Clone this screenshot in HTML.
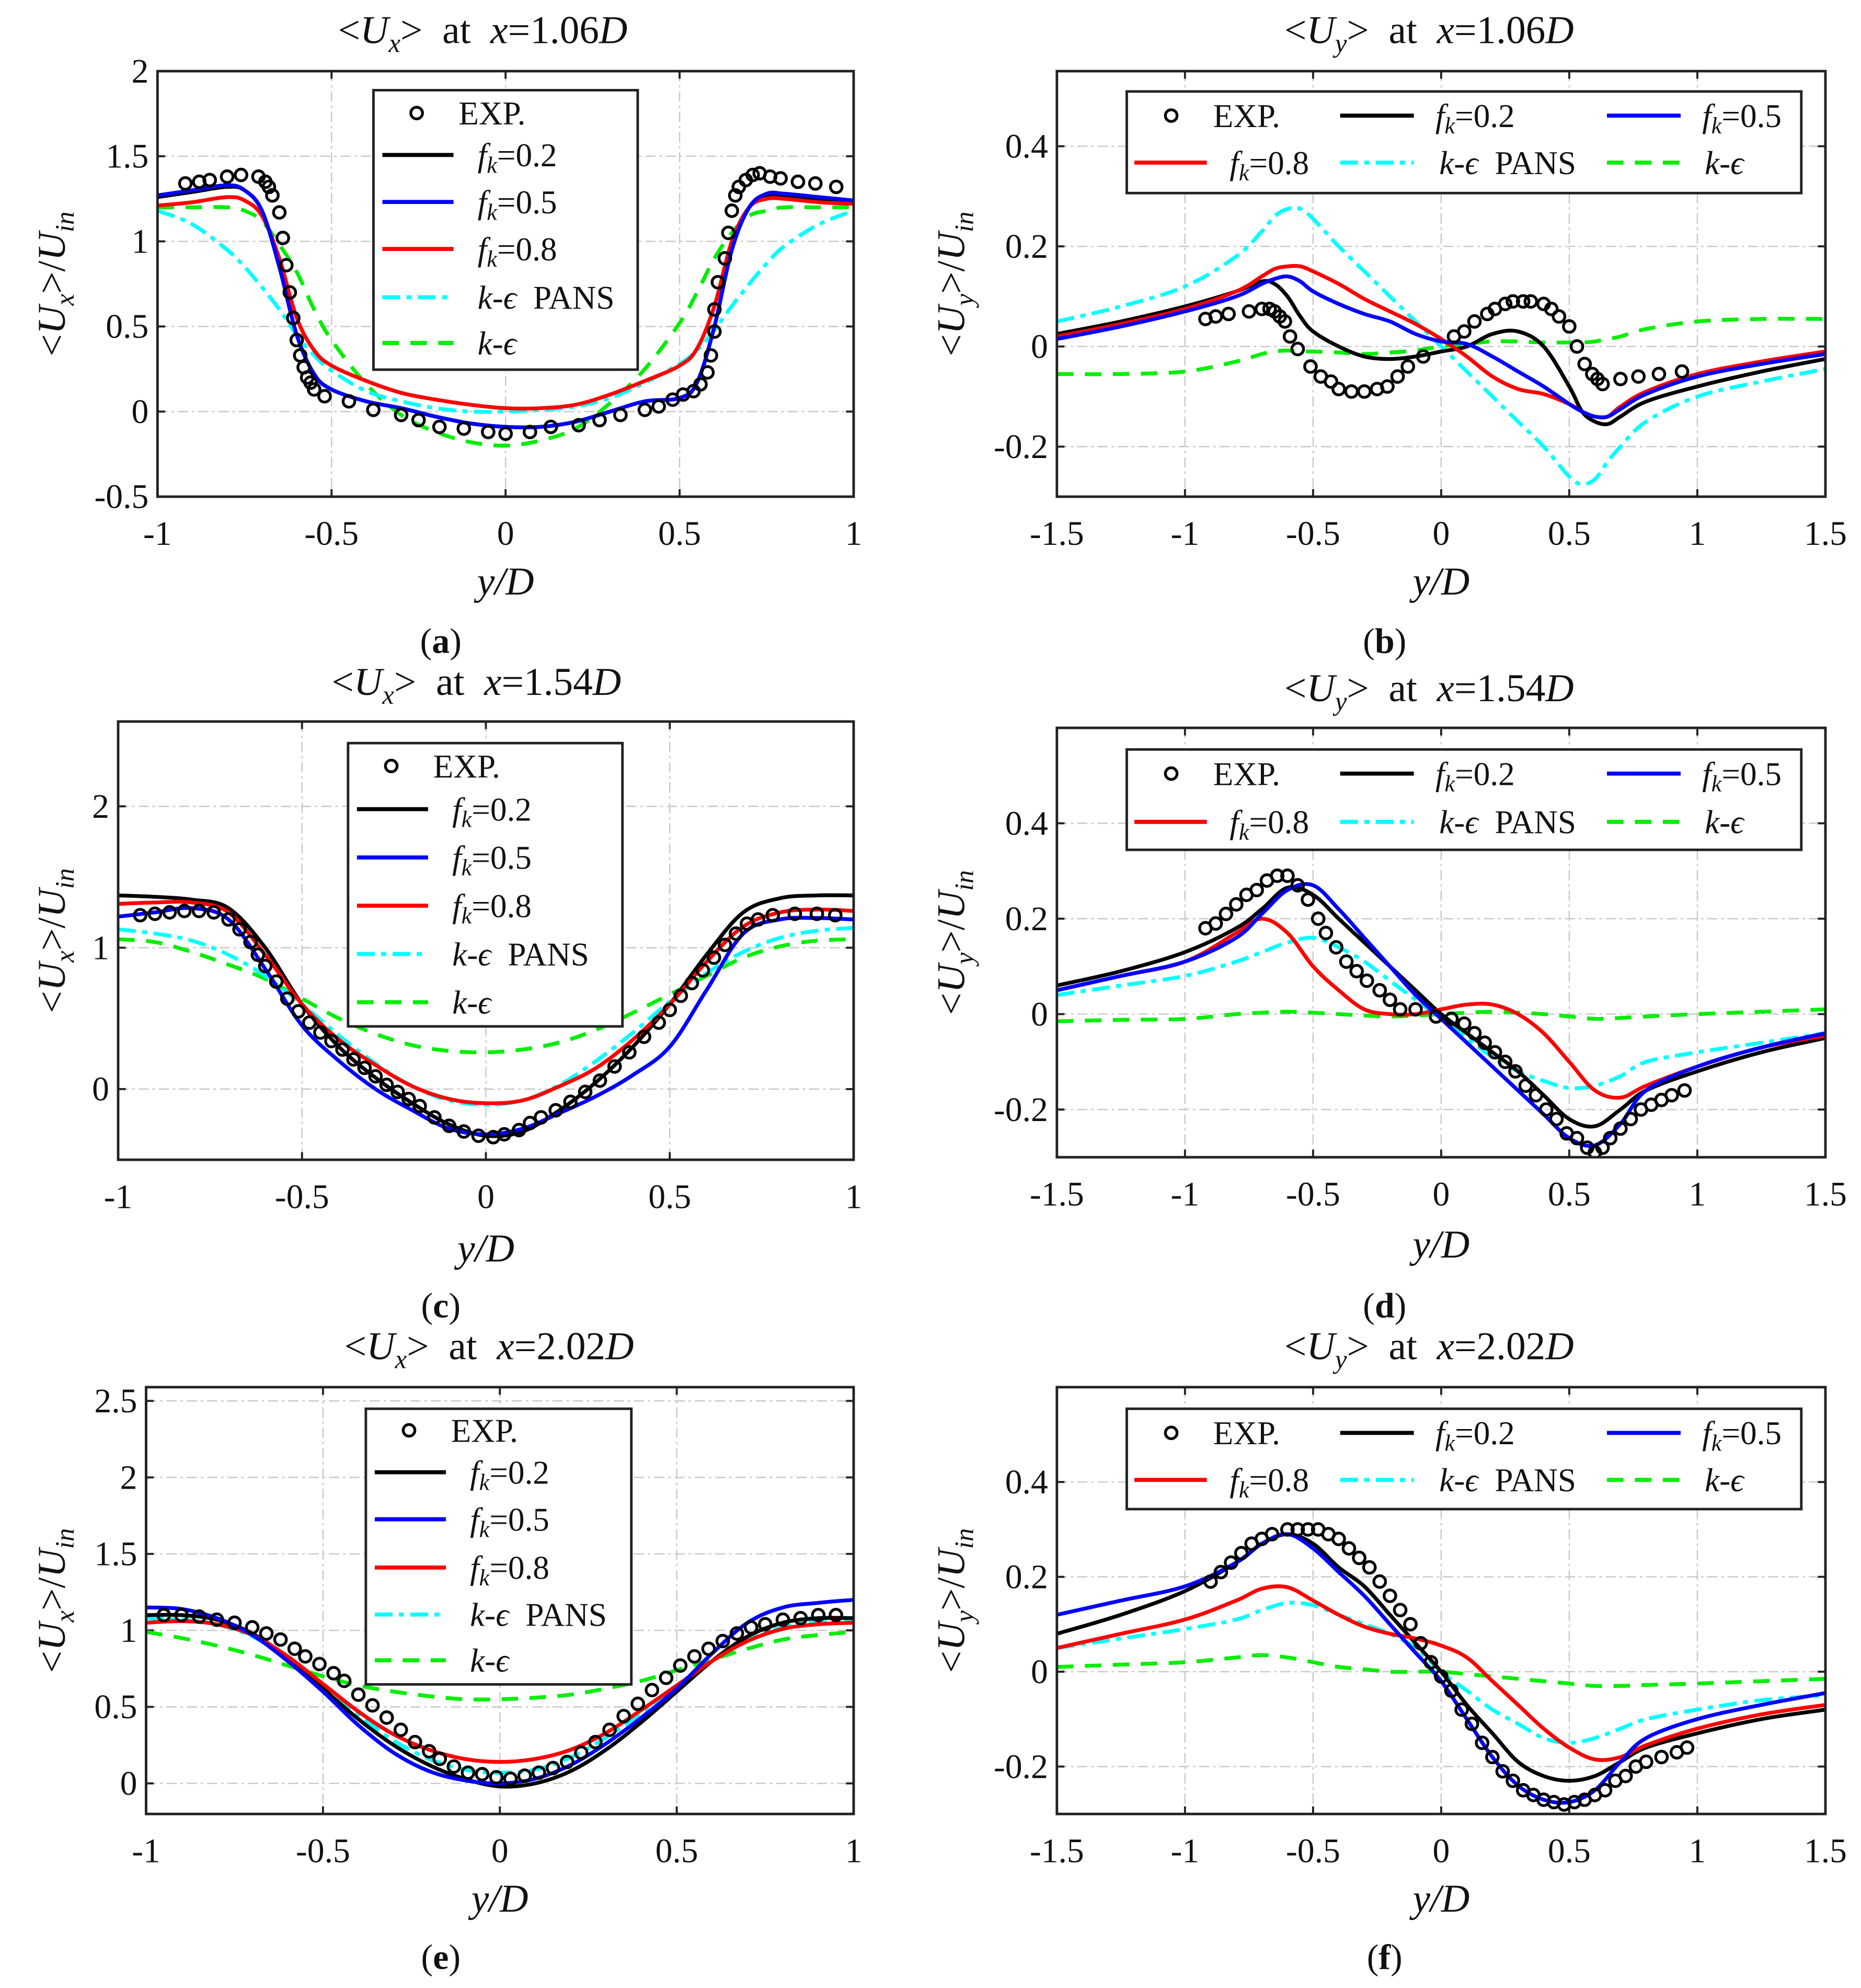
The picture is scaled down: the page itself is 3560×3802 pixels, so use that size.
<!DOCTYPE html>
<html><head><meta charset="utf-8">
<style>
html,body{margin:0;padding:0;background:#fff;}
svg{display:block;}
text{font-family:"Liberation Serif","DejaVu Serif",serif;fill:#111;}
</style></head>
<body>
<svg id="fig" xmlns="http://www.w3.org/2000/svg" width="3560" height="3802" viewBox="0 0 1465 1565" preserveAspectRatio="none"></svg>
<script>
// ---------- DATA ----------
// Panel a: <Ux> at x=1.06D
const xA = [-1,-0.9,-0.8,-0.75,-0.7,-0.65,-0.6,-0.55,-0.5,-0.4,-0.3,-0.2,-0.1,0,0.1,0.2,0.3,0.4,0.5,0.55,0.6,0.65,0.7,0.75,0.8,0.9,1];
const aFk02 = [1.26,1.29,1.32,1.3,1.18,0.85,0.45,0.22,0.13,0.06,0.02,-0.03,-0.07,-0.09,-0.09,-0.06,0.0,0.06,0.08,0.17,0.5,0.95,1.2,1.27,1.27,1.25,1.23];
const aFk05 = [1.27,1.3,1.33,1.3,1.18,0.85,0.45,0.22,0.13,0.06,0.02,-0.03,-0.07,-0.09,-0.09,-0.06,0.0,0.06,0.08,0.17,0.5,0.95,1.2,1.28,1.28,1.26,1.24];
const aFk08 = [1.21,1.23,1.26,1.24,1.15,0.9,0.55,0.36,0.27,0.18,0.11,0.07,0.04,0.02,0.02,0.04,0.1,0.18,0.27,0.37,0.62,1.0,1.2,1.25,1.25,1.23,1.22];
const aPans = [1.18,1.1,0.95,0.85,0.73,0.6,0.45,0.33,0.24,0.12,0.06,0.02,0.0,0.0,0.01,0.03,0.08,0.17,0.28,0.36,0.48,0.62,0.75,0.87,0.97,1.1,1.18];
const aKe   = [1.2,1.2,1.2,1.18,1.12,0.98,0.82,0.6,0.42,0.16,-0.02,-0.12,-0.18,-0.2,-0.17,-0.1,0.05,0.25,0.52,0.7,0.9,1.05,1.15,1.18,1.2,1.2,1.2];
const aExpX = [-0.92,-0.88,-0.85,-0.8,-0.76,-0.71,-0.69,-0.68,-0.67,-0.65,-0.64,-0.63,-0.62,-0.61,-0.6,-0.59,-0.58,-0.57,-0.56,-0.55,-0.52,-0.45,-0.38,-0.3,-0.25,-0.19,-0.12,-0.05,0,0.07,0.13,0.21,0.27,0.33,0.4,0.44,0.48,0.51,0.54,0.56,0.58,0.59,0.6,0.6,0.61,0.63,0.64,0.65,0.66,0.67,0.69,0.71,0.73,0.76,0.79,0.84,0.89,0.95];
const aExpY = [1.34,1.35,1.36,1.38,1.39,1.38,1.35,1.32,1.27,1.17,1.02,0.86,0.7,0.55,0.42,0.33,0.26,0.2,0.17,0.13,0.09,0.06,0.01,-0.02,-0.05,-0.09,-0.1,-0.12,-0.13,-0.12,-0.09,-0.08,-0.05,-0.02,0.01,0.03,0.07,0.1,0.12,0.16,0.23,0.33,0.47,0.6,0.76,0.9,1.05,1.18,1.27,1.32,1.36,1.39,1.4,1.38,1.37,1.35,1.34,1.32];

// Panel b: <Uy> at x=1.06D
const xB = [-1.5,-1.25,-1,-0.8,-0.7,-0.65,-0.6,-0.55,-0.5,-0.4,-0.3,-0.2,-0.1,0,0.1,0.2,0.3,0.4,0.5,0.55,0.6,0.65,0.7,0.8,1,1.25,1.5];
const bFk02 = [0.025,0.05,0.08,0.11,0.13,0.125,0.1,0.06,0.03,0.0,-0.02,-0.025,-0.02,-0.01,0.0,0.025,0.03,0.0,-0.08,-0.13,-0.15,-0.155,-0.14,-0.11,-0.08,-0.05,-0.025];
const bFk05 = [0.015,0.04,0.07,0.1,0.125,0.135,0.14,0.13,0.11,0.085,0.065,0.05,0.025,0.01,0.005,-0.02,-0.05,-0.08,-0.115,-0.13,-0.14,-0.14,-0.125,-0.095,-0.06,-0.035,-0.015];
const bFk08 = [0.02,0.045,0.075,0.11,0.14,0.155,0.16,0.16,0.15,0.125,0.095,0.07,0.045,0.015,-0.02,-0.06,-0.085,-0.095,-0.115,-0.13,-0.14,-0.14,-0.12,-0.09,-0.055,-0.03,-0.01];
const bPans = [0.05,0.08,0.12,0.18,0.23,0.26,0.275,0.275,0.255,0.2,0.15,0.1,0.05,0.0,-0.05,-0.1,-0.15,-0.2,-0.26,-0.275,-0.265,-0.23,-0.2,-0.15,-0.1,-0.07,-0.045];
const bKe   = [-0.055,-0.055,-0.05,-0.03,-0.015,-0.01,-0.008,-0.01,-0.01,-0.012,-0.015,-0.012,-0.008,0.0,0.005,0.01,0.01,0.008,0.008,0.008,0.01,0.015,0.02,0.035,0.05,0.055,0.055];
const bExpX = [-0.92,-0.88,-0.83,-0.75,-0.7,-0.67,-0.65,-0.63,-0.61,-0.59,-0.56,-0.51,-0.47,-0.43,-0.4,-0.35,-0.3,-0.25,-0.21,-0.17,-0.13,-0.07,0.05,0.09,0.13,0.18,0.21,0.25,0.28,0.32,0.35,0.4,0.43,0.46,0.5,0.53,0.56,0.59,0.61,0.63,0.7,0.77,0.85,0.94];
const bExpY = [0.055,0.06,0.065,0.07,0.075,0.075,0.07,0.06,0.05,0.02,-0.005,-0.04,-0.06,-0.07,-0.085,-0.09,-0.09,-0.085,-0.08,-0.06,-0.04,-0.02,0.02,0.03,0.05,0.065,0.075,0.085,0.09,0.09,0.09,0.085,0.075,0.06,0.04,0.0,-0.035,-0.055,-0.065,-0.075,-0.065,-0.06,-0.055,-0.05];

// Panel c: <Ux> at x=1.54D
const xC = [-1,-0.9,-0.8,-0.7,-0.6,-0.5,-0.4,-0.3,-0.2,-0.1,0,0.1,0.2,0.3,0.4,0.5,0.6,0.7,0.8,0.9,1];
const cFk02 = [1.37,1.36,1.34,1.28,1.0,0.6,0.3,0.08,-0.1,-0.25,-0.33,-0.3,-0.15,0.05,0.3,0.6,0.95,1.25,1.35,1.37,1.37];
const cFk05 = [1.22,1.25,1.28,1.2,0.85,0.45,0.2,0.0,-0.15,-0.28,-0.32,-0.28,-0.17,-0.05,0.1,0.3,0.7,1.1,1.2,1.21,1.2];
const cFk08 = [1.31,1.32,1.32,1.25,0.95,0.6,0.35,0.17,0.02,-0.07,-0.1,-0.08,0.02,0.15,0.35,0.6,0.9,1.15,1.25,1.27,1.26];
const cPans = [1.13,1.1,1.05,0.95,0.8,0.6,0.38,0.18,0.02,-0.08,-0.11,-0.08,0.03,0.2,0.4,0.62,0.82,0.97,1.07,1.12,1.14];
const cKe   = [1.06,1.04,0.97,0.88,0.78,0.64,0.5,0.39,0.31,0.27,0.26,0.28,0.33,0.42,0.54,0.67,0.8,0.93,1.01,1.05,1.06];
const cExpX = [-0.94,-0.9,-0.86,-0.82,-0.78,-0.74,-0.7,-0.67,-0.64,-0.62,-0.6,-0.57,-0.54,-0.51,-0.48,-0.45,-0.42,-0.39,-0.36,-0.33,-0.3,-0.27,-0.24,-0.21,-0.18,-0.14,-0.1,-0.06,-0.02,0.02,0.05,0.09,0.12,0.15,0.19,0.23,0.27,0.31,0.35,0.39,0.43,0.47,0.5,0.53,0.56,0.59,0.62,0.65,0.68,0.71,0.74,0.78,0.84,0.9,0.95];
const cExpY = [1.23,1.24,1.25,1.26,1.26,1.25,1.2,1.13,1.04,0.95,0.87,0.76,0.64,0.55,0.47,0.4,0.34,0.28,0.21,0.15,0.09,0.03,-0.02,-0.07,-0.12,-0.2,-0.26,-0.3,-0.33,-0.34,-0.32,-0.29,-0.24,-0.2,-0.15,-0.09,-0.02,0.06,0.16,0.26,0.37,0.47,0.56,0.66,0.75,0.84,0.93,1.02,1.1,1.17,1.2,1.23,1.24,1.24,1.23];

// Panel d: <Uy> at x=1.54D
const xD = [-1.5,-1.25,-1,-0.8,-0.7,-0.6,-0.5,-0.4,-0.3,-0.2,-0.1,0,0.1,0.2,0.3,0.4,0.5,0.6,0.7,0.8,1,1.25,1.5];
const dFk02 = [0.06,0.09,0.13,0.18,0.22,0.265,0.25,0.2,0.15,0.1,0.05,0.0,-0.04,-0.08,-0.12,-0.17,-0.22,-0.235,-0.2,-0.16,-0.12,-0.08,-0.05];
const dFk05 = [0.05,0.08,0.11,0.16,0.21,0.26,0.27,0.22,0.16,0.1,0.04,-0.01,-0.06,-0.11,-0.16,-0.21,-0.26,-0.275,-0.23,-0.16,-0.11,-0.07,-0.04];
const dFk08 = [0.05,0.08,0.11,0.17,0.2,0.17,0.1,0.05,0.01,0.0,0.0,0.01,0.02,0.02,0.0,-0.04,-0.1,-0.16,-0.175,-0.15,-0.11,-0.07,-0.045];
const dPans = [0.04,0.06,0.08,0.11,0.13,0.15,0.16,0.14,0.11,0.07,0.03,-0.01,-0.05,-0.09,-0.12,-0.14,-0.155,-0.15,-0.13,-0.1,-0.08,-0.06,-0.04];
const dKe   = [-0.015,-0.012,-0.01,0.0,0.003,0.005,0.003,0.0,-0.003,-0.005,-0.003,0.0,0.003,0.005,0.003,0.0,-0.005,-0.01,-0.008,-0.005,0.0,0.005,0.01];
const dExpX = [-0.92,-0.88,-0.84,-0.8,-0.76,-0.72,-0.68,-0.64,-0.6,-0.56,-0.52,-0.48,-0.45,-0.41,-0.37,-0.33,-0.29,-0.24,-0.2,-0.16,-0.1,-0.02,0.04,0.09,0.13,0.17,0.21,0.25,0.29,0.33,0.37,0.41,0.45,0.49,0.53,0.57,0.6,0.63,0.66,0.7,0.74,0.78,0.82,0.86,0.9,0.95];
const dExpY = [0.18,0.19,0.21,0.23,0.25,0.26,0.28,0.29,0.29,0.27,0.24,0.2,0.17,0.14,0.11,0.09,0.07,0.05,0.03,0.01,0.01,-0.005,-0.01,-0.02,-0.04,-0.06,-0.08,-0.1,-0.12,-0.15,-0.17,-0.2,-0.22,-0.25,-0.26,-0.28,-0.29,-0.28,-0.26,-0.24,-0.22,-0.2,-0.19,-0.18,-0.17,-0.16];

// Panel e: <Ux> at x=2.02D
const xE = [-1,-0.9,-0.8,-0.7,-0.6,-0.5,-0.4,-0.3,-0.2,-0.1,0,0.1,0.2,0.3,0.4,0.5,0.6,0.7,0.8,0.9,1];
const eFk02 = [1.1,1.1,1.07,0.98,0.82,0.62,0.42,0.25,0.12,0.03,-0.02,0.0,0.08,0.22,0.4,0.6,0.8,0.96,1.05,1.08,1.08];
const eFk05 = [1.15,1.14,1.08,0.97,0.8,0.6,0.38,0.2,0.08,0.02,0.0,0.03,0.12,0.26,0.43,0.62,0.85,1.05,1.15,1.18,1.2];
const eFk08 = [1.05,1.06,1.04,0.97,0.83,0.65,0.47,0.32,0.22,0.16,0.14,0.16,0.22,0.33,0.48,0.64,0.8,0.93,1.01,1.04,1.05];
const ePans = [1.08,1.07,1.04,0.96,0.82,0.64,0.45,0.28,0.16,0.09,0.07,0.09,0.17,0.3,0.46,0.63,0.8,0.94,1.02,1.06,1.07];
const eKe   = [0.99,0.95,0.9,0.84,0.77,0.7,0.64,0.6,0.57,0.55,0.55,0.56,0.58,0.62,0.67,0.74,0.81,0.88,0.94,0.97,0.99];
const eExpX = [-0.95,-0.9,-0.85,-0.8,-0.75,-0.7,-0.66,-0.62,-0.58,-0.55,-0.51,-0.47,-0.44,-0.4,-0.36,-0.32,-0.28,-0.24,-0.2,-0.17,-0.13,-0.09,-0.05,-0.01,0.03,0.07,0.11,0.15,0.19,0.23,0.27,0.31,0.35,0.39,0.43,0.47,0.51,0.55,0.59,0.63,0.67,0.71,0.75,0.8,0.85,0.9,0.95];
const eExpY = [1.1,1.1,1.09,1.07,1.05,1.02,0.98,0.94,0.88,0.83,0.78,0.72,0.67,0.58,0.51,0.43,0.35,0.27,0.21,0.16,0.11,0.07,0.06,0.04,0.03,0.05,0.07,0.1,0.14,0.2,0.27,0.35,0.44,0.52,0.61,0.69,0.77,0.83,0.88,0.93,0.98,1.02,1.04,1.07,1.08,1.1,1.1];

// Panel f: <Uy> at x=2.02D
const xF = [-1.5,-1.25,-1,-0.8,-0.7,-0.6,-0.5,-0.4,-0.3,-0.2,-0.1,0,0.1,0.2,0.3,0.4,0.5,0.6,0.7,0.8,1,1.25,1.5];
const fFk02 = [0.08,0.12,0.17,0.23,0.27,0.29,0.27,0.22,0.18,0.12,0.06,0.0,-0.07,-0.13,-0.19,-0.22,-0.23,-0.22,-0.19,-0.16,-0.13,-0.1,-0.08];
const fFk05 = [0.12,0.15,0.18,0.23,0.27,0.29,0.26,0.21,0.16,0.1,0.04,-0.02,-0.1,-0.18,-0.24,-0.27,-0.275,-0.25,-0.19,-0.14,-0.1,-0.07,-0.045];
const fFk08 = [0.05,0.08,0.11,0.15,0.175,0.178,0.15,0.12,0.095,0.08,0.07,0.055,0.03,-0.02,-0.07,-0.12,-0.16,-0.185,-0.18,-0.155,-0.12,-0.09,-0.07];
const fPans = [0.05,0.07,0.09,0.11,0.13,0.145,0.14,0.12,0.1,0.08,0.05,0.0,-0.04,-0.08,-0.11,-0.14,-0.15,-0.14,-0.12,-0.1,-0.08,-0.06,-0.05];
const fKe   = [0.01,0.015,0.02,0.03,0.035,0.03,0.02,0.01,0.005,0.0,0.0,0.0,-0.005,-0.01,-0.015,-0.02,-0.025,-0.03,-0.03,-0.028,-0.025,-0.02,-0.015];
const fExpX = [-0.9,-0.86,-0.82,-0.78,-0.74,-0.7,-0.66,-0.6,-0.56,-0.52,-0.48,-0.44,-0.4,-0.36,-0.32,-0.28,-0.24,-0.2,-0.16,-0.12,-0.08,-0.04,0,0.04,0.08,0.12,0.16,0.2,0.24,0.28,0.32,0.36,0.4,0.44,0.48,0.52,0.56,0.6,0.64,0.68,0.72,0.76,0.8,0.86,0.92,0.96];
const fExpY = [0.19,0.21,0.23,0.25,0.27,0.28,0.29,0.3,0.3,0.3,0.3,0.29,0.28,0.26,0.24,0.22,0.19,0.16,0.13,0.1,0.06,0.02,-0.01,-0.04,-0.08,-0.11,-0.15,-0.18,-0.21,-0.23,-0.25,-0.26,-0.27,-0.275,-0.28,-0.275,-0.27,-0.26,-0.25,-0.23,-0.22,-0.2,-0.19,-0.18,-0.17,-0.16];

const uxTicksA = [-0.5,0,0.5,1,1.5,2];
const uxTicksC = [0,1,2];
const uxTicksE = [0,0.5,1,1.5,2,2.5];
const uyTicks = [-0.2,0,0.2,0.4];
const xTicksUx = [-1,-0.5,0,0.5,1];
const xTicksUy = [-1.5,-1,-0.5,0,0.5,1,1.5];

// ---------- RENDER ----------
const NS = 'http://www.w3.org/2000/svg';
const svg = document.getElementById('fig');
function mk(tag, attrs, parent){ const e=document.createElementNS(NS,tag); for(const k in attrs) e.setAttribute(k,attrs[k]); (parent||svg).appendChild(e); return e; }

const COLORS = {fk02:'#000000', fk05:'#0000ff', fk08:'#ff0000', pans:'#00ffff', ke:'#00ee00'};
const DASH = {fk02:null, fk05:null, fk08:null, pans:'14 5 4 5', ke:'13 9'};

const panels = [
 {id:'a', type:'ux', L:124,R:672,T:56,B:391, xmin:-1,xmax:1,ymin:-0.5,ymax:2, yt:uxTicksA, xt:xTicksUx, title:'1.06', tx:380, ty:34, lab:'(a)', labx:347, laby:514, xlabY:468, xtY:429, legend:{x:294,y:71,w:208,h:220,rows:[89,122,159,196,234,270]},
  x:xA, s:{ke:aKe,pans:aPans,fk08:aFk08,fk05:aFk05,fk02:aFk02}, ex:aExpX, ey:aExpY, ylx:40},
 {id:'b', type:'uy', L:832,R:1437,T:56,B:391, xmin:-1.5,xmax:1.5,ymin:-0.3,ymax:0.55, yt:uyTicks, xt:xTicksUy, title:'1.06', tx:1125, ty:34, lab:'(b)', labx:1090, laby:514, xlabY:468, xtY:429, legend:{x:887,y:72,w:531,h:80,rows:[91,128]},
  x:xB, s:{ke:bKe,pans:bPans,fk08:bFk08,fk05:bFk05,fk02:bFk02}, ex:bExpX, ey:bExpY, ylx:748},
 {id:'c', type:'ux', L:93,R:672,T:568,B:913, xmin:-1,xmax:1,ymin:-0.5,ymax:2.6, yt:uxTicksC, xt:xTicksUx, title:'1.54', tx:375, ty:547, lab:'(c)', labx:347, laby:1037, xlabY:993, xtY:951, legend:{x:274,y:585,w:216,h:223,rows:[603,637,675,713,751,789]},
  x:xC, s:{ke:cKe,pans:cPans,fk08:cFk08,fk05:cFk05,fk02:cFk02}, ex:cExpX, ey:cExpY, ylx:40},
 {id:'d', type:'uy', L:832,R:1437,T:573,B:911, xmin:-1.5,xmax:1.5,ymin:-0.3,ymax:0.6, yt:uyTicks, xt:xTicksUy, title:'1.54', tx:1125, ty:552, lab:'(d)', labx:1090, laby:1037, xlabY:990, xtY:949, legend:{x:887,y:590,w:531,h:79,rows:[609,647]},
  x:xD, s:{ke:dKe,pans:dPans,fk08:dFk08,fk05:dFk05,fk02:dFk02}, ex:dExpX, ey:dExpY, ylx:748},
 {id:'e', type:'ux', L:115,R:672,T:1092,B:1428, xmin:-1,xmax:1,ymin:-0.2,ymax:2.59, yt:uxTicksE, xt:xTicksUx, title:'2.02', tx:385, ty:1070, lab:'(e)', labx:347, laby:1550, xlabY:1505, xtY:1466, legend:{x:288,y:1109,w:209,h:217,rows:[1126,1159,1196,1234,1271,1307]},
  x:xE, s:{ke:eKe,pans:ePans,fk08:eFk08,fk05:eFk05,fk02:eFk02}, ex:eExpX, ey:eExpY, ylx:40},
 {id:'f', type:'uy', L:832,R:1437,T:1092,B:1428, xmin:-1.5,xmax:1.5,ymin:-0.3,ymax:0.6, yt:uyTicks, xt:xTicksUy, title:'2.02', tx:1125, ty:1070, lab:'(f)', labx:1090, laby:1550, xlabY:1505, xtY:1466, legend:{x:887,y:1109,w:531,h:79,rows:[1128,1165]},
  x:xF, s:{ke:fKe,pans:fPans,fk08:fFk08,fk05:fFk05,fk02:fFk02}, ex:fExpX, ey:fExpY, ylx:748}
];

function smoothPath(pts){
  let d='M'+pts[0][0].toFixed(2)+','+pts[0][1].toFixed(2);
  for(let i=0;i<pts.length-1;i++){
    const p0=pts[i-1]||pts[i], p1=pts[i], p2=pts[i+1], p3=pts[i+2]||p2;
    const t=0.17;
    const c1=[p1[0]+(p2[0]-p0[0])*t, p1[1]+(p2[1]-p0[1])*t];
    const c2=[p2[0]-(p3[0]-p1[0])*t, p2[1]-(p3[1]-p1[1])*t];
    d+=' C'+c1[0].toFixed(2)+','+c1[1].toFixed(2)+' '+c2[0].toFixed(2)+','+c2[1].toFixed(2)+' '+p2[0].toFixed(2)+','+p2[1].toFixed(2);
  }
  return d;
}

function fkLabel(parent, x, y, val, size){
  const t=mk('text',{x:x,y:y,'font-size':size},parent);
  const a=mk('tspan',{'font-style':'italic'},t); a.textContent='f';
  const b=mk('tspan',{'font-style':'italic','font-size':size*0.7,dy:5},t); b.textContent='k';
  const c=mk('tspan',{dy:-5},t); c.textContent='='+val;
  return t;
}
function keLabel(parent, x, y, pans, size){
  const t=mk('text',{x:x,y:y,'font-size':size},parent);
  const a=mk('tspan',{'font-style':'italic'},t); a.textContent='k';
  const b=mk('tspan',{},t); b.textContent='-';
  const c=mk('tspan',{'font-style':'italic'},t); c.textContent='ϵ';
  if(pans){ const d=mk('tspan',{},t); d.textContent='\u00a0 PANS'; }
  return t;
}
function legendLine(parent, x1, x2, y, key){
  const a={x1:x1,x2:x2,y1:y,y2:y,stroke:COLORS[key],'stroke-width':3.2};
  if(DASH[key]) a['stroke-dasharray']=DASH[key];
  return mk('line',a,parent);
}

panels.forEach(p=>{
  const g=mk('g',{});
  
  
  const sx=v=>p.L+(v-p.xmin)/(p.xmax-p.xmin)*(p.R-p.L);
  const sy=v=>p.B-(v-p.ymin)/(p.ymax-p.ymin)*(p.B-p.T);
  mk('rect',{x:p.L,y:p.T,width:p.R-p.L,height:p.B-p.T,fill:'#fff'},g);
  const grid=mk('g',{stroke:'#c8c8c8','stroke-width':1,'stroke-dasharray':'8 3 2 3'},g);
  
  
  p.xt.forEach(v=>{ if(v>p.xmin&&v<p.xmax) mk('line',{x1:sx(v),x2:sx(v),y1:p.T,y2:p.B},grid); });
  p.yt.forEach(v=>{ if(v>p.ymin&&v<p.ymax) mk('line',{x1:p.L,x2:p.R,y1:sy(v),y2:sy(v)},grid); });
  const tk=mk('g',{stroke:'#222','stroke-width':1.6},g);
  p.xt.forEach(v=>{
    mk('line',{x1:sx(v),x2:sx(v),y1:p.B,y2:p.B-6},tk); mk('line',{x1:sx(v),x2:sx(v),y1:p.T,y2:p.T+6},tk);
    const t=mk('text',{x:sx(v),y:p.xtY,'font-size':27,'text-anchor':'middle'},g); t.textContent=String(v);
    
    
  });
  p.yt.forEach(v=>{
    mk('line',{x1:p.L,x2:p.L+6,y1:sy(v),y2:sy(v)},tk); mk('line',{x1:p.R,x2:p.R-6,y1:sy(v),y2:sy(v)},tk);
    const t=mk('text',{x:p.L-7,y:sy(v)+9,'font-size':27,'text-anchor':'end'},g); t.textContent=String(v);
    
    
  });
  const clip=mk('clipPath',{id:'clip'+p.id},g); mk('rect',{x:p.L,y:p.T,width:p.R-p.L,height:p.B-p.T},clip);
  const sg=mk('g',{'clip-path':'url(#clip'+p.id+')'},g);
  ['ke','pans','fk02','fk08','fk05'].forEach(key=>{
    const arr=p.s[key];
    const pts=p.x.map((xv,i)=>[sx(xv),sy(arr[i])]);
    const a={d:smoothPath(pts),fill:'none',stroke:COLORS[key],'stroke-width':3,'stroke-linejoin':'round'};
    if(DASH[key]) a['stroke-dasharray']=DASH[key];
    const path=mk('path',a,sg);
    
    
  });
  p.ex.forEach((xv,i)=>{
    const c=mk('circle',{cx:sx(xv),cy:sy(p.ey[i]),r:4.6,fill:'none',stroke:'#000','stroke-width':2.2},sg);
    
    
  });
  mk('rect',{x:p.L,y:p.T,width:p.R-p.L,height:p.B-p.T,fill:'none',stroke:'#222','stroke-width':2},g);
  const ti=mk('text',{x:p.tx,y:p.ty,'font-size':31,'text-anchor':'middle'},g);
  
  
  let s=mk('tspan',{},ti); s.textContent='<';
  s=mk('tspan',{'font-style':'italic'},ti); s.textContent='U';
  s=mk('tspan',{'font-style':'italic','font-size':21,dy:7},ti); s.textContent=(p.type==='ux'?'x':'y');
  s=mk('tspan',{dy:-7},ti); s.textContent='>\u00a0\u00a0at\u00a0\u00a0';
  s=mk('tspan',{'font-style':'italic'},ti); s.textContent='x';
  s=mk('tspan',{},ti); s.textContent='='+p.title;
  s=mk('tspan',{'font-style':'italic'},ti); s.textContent='D';
  const cy=(p.T+p.B)/2;
  const yl=mk('text',{x:0,y:0,'font-size':31,'text-anchor':'middle',transform:'translate('+(p.ylx+11)+','+cy+') rotate(-90)'},g);
  
  
  s=mk('tspan',{},yl); s.textContent='<';
  s=mk('tspan',{'font-style':'italic'},yl); s.textContent='U';
  s=mk('tspan',{'font-style':'italic','font-size':21,dy:7},yl); s.textContent=(p.type==='ux'?'x':'y');
  s=mk('tspan',{dy:-7},yl); s.textContent='>/';
  s=mk('tspan',{'font-style':'italic'},yl); s.textContent='U';
  s=mk('tspan',{'font-style':'italic','font-size':21,dy:7},yl); s.textContent='in';
  const xl=mk('text',{x:(p.L+p.R)/2,y:p.xlabY,'font-size':31,'text-anchor':'middle','font-style':'italic'},g);
  
  
  xl.textContent='y/D';
  const pl=mk('text',{x:p.labx,y:p.laby,'font-size':28,'text-anchor':'middle'},g);
  
  
  s=mk('tspan',{},pl); s.textContent='(';
  s=mk('tspan',{'font-weight':'bold'},pl); s.textContent=p.lab[1];
  s=mk('tspan',{},pl); s.textContent=')';
  const lg=p.legend;
  const L=mk('g',{},g);
  
  
  mk('rect',{x:lg.x,y:lg.y,width:lg.w,height:lg.h,fill:'#fff',stroke:'#222','stroke-width':2},L);
  const fs=26, off=9;
  if(p.type==='ux'){
    const r=lg.rows, x0=lg.x;
    mk('circle',{cx:x0+34,cy:r[0],r:4.6,fill:'none',stroke:'#000','stroke-width':2.2},L);
    let t=mk('text',{x:x0+67,y:r[0]+off,'font-size':fs},L); t.textContent='EXP.';
    [['fk02','0.2'],['fk05','0.5'],['fk08','0.8']].forEach((e,i)=>{
      legendLine(L,x0+7,x0+63,r[i+1],e[0]); fkLabel(L,x0+82,r[i+1]+off,e[1],fs);
    });
    legendLine(L,x0+7,x0+63,r[4],'pans'); keLabel(L,x0+82,r[4]+off,true,fs);
    legendLine(L,x0+7,x0+63,r[5],'ke'); keLabel(L,x0+82,r[5]+off,false,fs);
  } else {
    const r=lg.rows, x0=lg.x;
    mk('circle',{cx:x0+35,cy:r[0],r:4.6,fill:'none',stroke:'#000','stroke-width':2.2},L);
    let t=mk('text',{x:x0+68,y:r[0]+off,'font-size':fs},L); t.textContent='EXP.';
    legendLine(L,x0+168,x0+226,r[0],'fk02'); fkLabel(L,x0+243,r[0]+off,'0.2',fs);
    legendLine(L,x0+378,x0+436,r[0],'fk05'); fkLabel(L,x0+453,r[0]+off,'0.5',fs);
    legendLine(L,x0+6,x0+63,r[1],'fk08'); fkLabel(L,x0+81,r[1]+off,'0.8',fs);
    legendLine(L,x0+168,x0+226,r[1],'pans'); keLabel(L,x0+246,r[1]+off,true,fs);
    legendLine(L,x0+378,x0+436,r[1],'ke'); keLabel(L,x0+455,r[1]+off,false,fs);
  }
});
</script>
</body></html>
